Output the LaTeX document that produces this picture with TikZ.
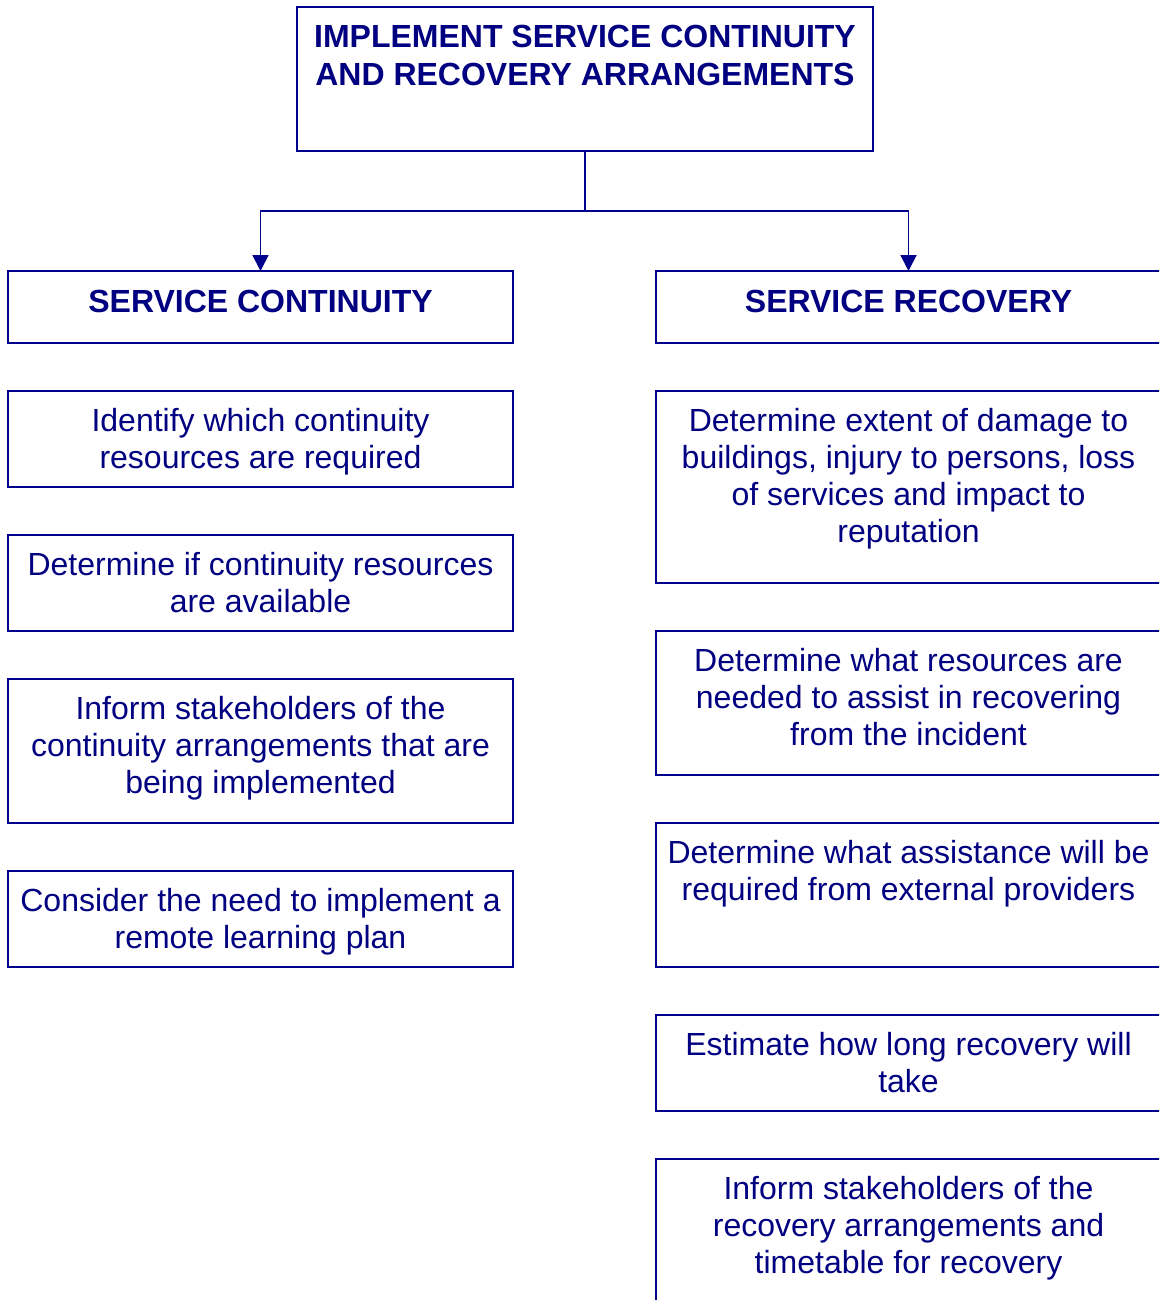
\documentclass[tikz,border=0pt]{standalone}
\usepackage{fontspec}
\setmainfont{Liberation Sans}
\usetikzlibrary{arrows.meta}
\definecolor{navytext}{RGB}{0,0,128}
\definecolor{navyline}{RGB}{0,0,140}
\begin{document}
\begin{tikzpicture}[x=1pt,y=-1pt,
  box/.style={draw=navyline, line width=1.8pt, inner sep=0pt, outer sep=0pt, anchor=north west, minimum width=505pt},
  txt/.style={text=navytext, font=\fontsize{32}{37}\selectfont, align=center, inner sep=0pt, anchor=north, execute at begin node=\strut},
  head/.style={txt, font=\fontsize{32}{37}\selectfont\bfseries},
  titletxt/.style={txt, font=\fontsize{32}{38}\selectfont\bfseries},
  conn/.style={draw=navyline, line width=1.8pt},
  arr/.style={conn, -{Triangle[width=16pt,length=16pt]}}]
\useasboundingbox (0,0) rectangle (1159,1300);
\clip (0,0) rectangle (1159,1300);

% title
\node[box, minimum width=576pt, minimum height=144pt] (top) at (297,7) {};
\node[titletxt] (topt) at (585,25.4) {IMPLEMENT SERVICE CONTINUITY\\AND RECOVERY ARRANGEMENTS};

% headers
\node[box, minimum height=72pt] (sc) at (8,271) {};
\node[head] (sct) at (260.5,286.1) {SERVICE CONTINUITY};
\node[box, minimum height=72pt] (sr) at (656,271) {};
\node[head] (srt) at (908.5,286.1) {SERVICE RECOVERY};

% connectors
\coordinate (j) at (585,211);
\draw[conn] (top.south) -- (j);
\draw[arr] (j) -| (sc.north);
\draw[arr] (j) -| (sr.north);

% left column
\node[box, minimum height=96pt] (l1) at (8,391) {};
\node[txt] (l1t) at (260.5,408.1) {Identify which continuity\\resources are required};
\node[box, minimum height=96pt] (l2) at (8,535) {};
\node[txt] (l2t) at (260.5,552.1) {Determine if continuity resources\\are available};
\node[box, minimum height=144pt] (l3) at (8,679) {};
\node[txt] (l3t) at (260.5,696.1) {Inform stakeholders of the\\continuity arrangements that are\\being implemented};
\node[box, minimum height=96pt] (l4) at (8,871) {};
\node[txt] (l4t) at (260.5,888.1) {Consider the need to implement a\\remote learning plan};

% right column
\node[box, minimum height=192pt] (r1) at (656,391) {};
\node[txt] (r1t) at (908.5,408.1) {Determine extent of damage to\\buildings, injury to persons, loss\\of services and impact to\\reputation};
\node[box, minimum height=144pt] (r2) at (656,631) {};
\node[txt] (r2t) at (908.5,648.1) {Determine what resources are\\needed to assist in recovering\\from the incident};
\node[box, minimum height=144pt] (r3) at (656,823) {};
\node[txt] (r3t) at (908.5,840.1) {Determine what assistance will be\\required from external providers};
\node[box, minimum height=96pt] (r4) at (656,1015) {};
\node[txt] (r4t) at (908.5,1032.1) {Estimate how long recovery will\\take};
\node[box, minimum height=192pt] (r5) at (656,1159) {};
\node[txt] (r5t) at (908.5,1176.1) {Inform stakeholders of the\\recovery arrangements and\\timetable for recovery};
\end{tikzpicture}
\end{document}
